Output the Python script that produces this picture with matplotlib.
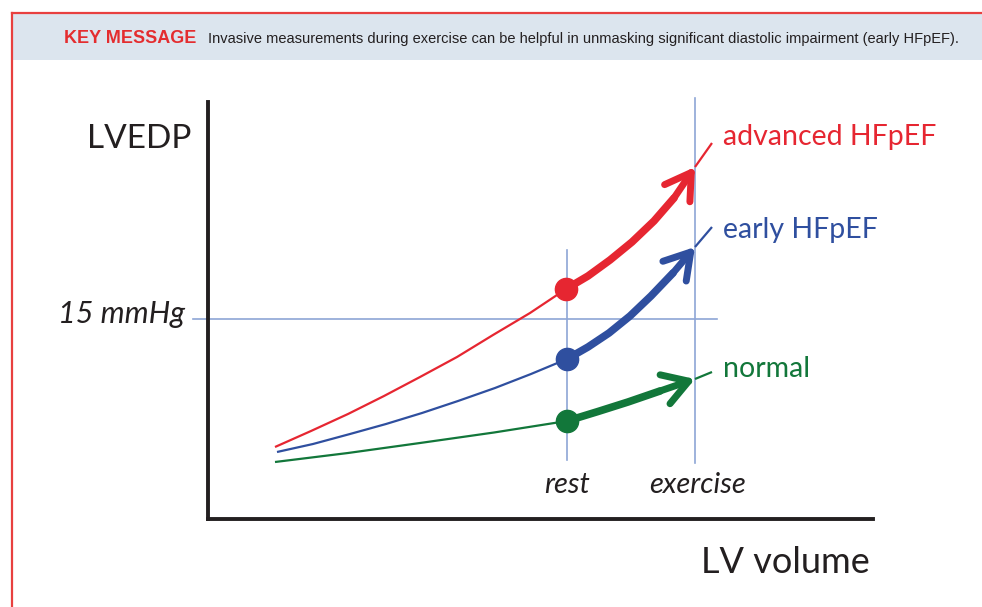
import matplotlib
matplotlib.use("Agg")
import matplotlib.pyplot as plt
from matplotlib.patches import Rectangle
from matplotlib.lines import Line2D

# ---------------- data (arbitrary units: LV volume, LVEDP) ----------------
adv_rest_x = [67, 103, 140, 176, 212, 249, 285, 322, 358]
adv_rest_y = [72, 88, 105, 123, 142, 162, 184, 206, 230]
adv_ex_x = [358, 380, 402, 424, 446, 466, 487]
adv_ex_y = [230, 243, 259, 277, 298, 321, 352]
adv_tail_x = [487, 504]
adv_tail_y = [352, 376]

early_rest_x = [69, 105, 142, 178, 214, 250, 287, 323, 359]
early_rest_y = [67, 75, 85, 95, 106, 118, 131, 145, 160]
early_ex_x = [359, 380, 401, 422, 443, 465, 487]
early_ex_y = [160, 172, 186, 203, 223, 246, 272]
early_tail_x = [487, 504]
early_tail_y = [272, 292]

norm_rest_x = [67, 140, 212, 286, 359]
norm_rest_y = [57, 66, 76, 86.5, 98]
norm_ex_x = [359, 390, 420, 452, 487]
norm_ex_y = [98, 107.5, 117, 128, 140]
norm_tail_x = [487, 504]
norm_tail_y = [140, 147]

rest_x = 359
exercise_x = 487
threshold_y = 200  # 15 mmHg

labels = ["advanced HFpEF", "early HFpEF", "normal"]
colors = ["#e62631", "#2f4f9f", "#12773a"]

W, H = 982, 607
fig = plt.figure(figsize=(W / 100, H / 100), dpi=100)


def fx(px):
    return px / W


def fy(py):
    return 1 - py / H


# header band and red frame
fig.patches.append(Rectangle((fx(12), fy(60)), fx(982) - fx(12), fy(13) - fy(60),
                             transform=fig.transFigure, facecolor="#dce5ee",
                             edgecolor="none", zorder=0))
fig.lines.append(Line2D([fx(12), fx(12)], [fy(13), 0], transform=fig.transFigure,
                        color="#e8403f", lw=1.6))
fig.lines.append(Line2D([fx(12), 1], [fy(13), fy(13)], transform=fig.transFigure,
                        color="#e8403f", lw=1.6))

hdr_font = ["Liberation Sans Narrow", "Liberation Sans", "DejaVu Sans"]
fig.text(fx(64), fy(43), "KEY MESSAGE", color="#e42d2f", fontsize=13,
         fontweight="bold", family=hdr_font, va="baseline", ha="left")
fig.text(fx(208), fy(43),
         "Invasive measurements during exercise can be helpful in unmasking significant diastolic impairment (early HFpEF).",
         color="#231f20", fontsize=10.5, family=hdr_font, va="baseline", ha="left")

# main axes
ax = fig.add_axes([fx(208), fy(519), fx(873) - fx(208), fy(102) - fy(519)])
ax.set_xlim(0, 665)
ax.set_ylim(0, 417)
ax.set_xticks([])
ax.set_yticks([])
for s in ["top", "right"]:
    ax.spines[s].set_visible(False)
for s in ["left", "bottom"]:
    ax.spines[s].set_linewidth(2.8)
    ax.spines[s].set_color("#231f20")
    ax.spines[s].set_capstyle("projecting")

grid_c = "#8ea6d6"
ax.plot([-15, 509], [threshold_y, threshold_y], color=grid_c, lw=1.2, clip_on=False, zorder=1)
ax.plot([rest_x, rest_x], [59, 269], color=grid_c, lw=1.2, clip_on=False, zorder=1)
ax.plot([exercise_x, exercise_x], [56, 421], color=grid_c, lw=1.2, clip_on=False, zorder=1)

series = [
    (adv_rest_x, adv_rest_y, adv_ex_x, adv_ex_y, adv_tail_x, adv_tail_y),
    (early_rest_x, early_rest_y, early_ex_x, early_ex_y, early_tail_x, early_tail_y),
    (norm_rest_x, norm_rest_y, norm_ex_x, norm_ex_y, norm_tail_x, norm_tail_y),
]
for (rx, ry, ex, ey, tx, ty), c in zip(series, colors):
    ax.plot(rx, ry, color=c, lw=1.6, solid_capstyle="butt", solid_joinstyle="round",
            zorder=2, clip_on=False)
    ax.plot(tx, ty, color=c, lw=1.6, solid_capstyle="butt", zorder=2, clip_on=False)
    ax.plot(ex[:-1], ey[:-1], color=c, lw=5.5, solid_capstyle="round",
            solid_joinstyle="round", zorder=3)
    ax.annotate("", xy=(ex[-1], ey[-1]), xytext=(ex[-2], ey[-2]),
                arrowprops=dict(arrowstyle="->,head_length=0.9,head_width=0.55",
                                lw=5, color=c, mutation_scale=20,
                                shrinkA=0, shrinkB=0, capstyle="round",
                                joinstyle="round"), zorder=3)
    ax.plot([rx[-1]], [ry[-1]], "o", color=c, markersize=16, zorder=4)

txt_font = ["Lato", "DejaVu Sans"]
dark = "#231f20"
fig.text(fx(87), fy(148), "LVEDP", fontsize=24, family=txt_font, color=dark, va="baseline", ha="left")
fig.text(fx(185), fy(323), "15 mmHg", fontsize=22, family=txt_font, style="italic",
         color=dark, va="baseline", ha="right")
fig.text(fx(870), fy(573), "LV volume", fontsize=26, family=txt_font, color=dark,
         va="baseline", ha="right")

ax.text(rest_x, 26, "rest", fontsize=21, family=txt_font, style="italic", color=dark,
        ha="center", va="baseline", clip_on=False)
ax.text(exercise_x + 3, 26, "exercise", fontsize=21, family=txt_font, style="italic", color=dark,
        ha="center", va="baseline", clip_on=False)

label_y = [145, 238, 377]
for lab, c, ly in zip(labels, colors, label_y):
    fig.text(fx(723), fy(ly), lab, fontsize=20.5, family=txt_font, color=c,
             va="baseline", ha="left")

fig.savefig("out.png", dpi=100)
